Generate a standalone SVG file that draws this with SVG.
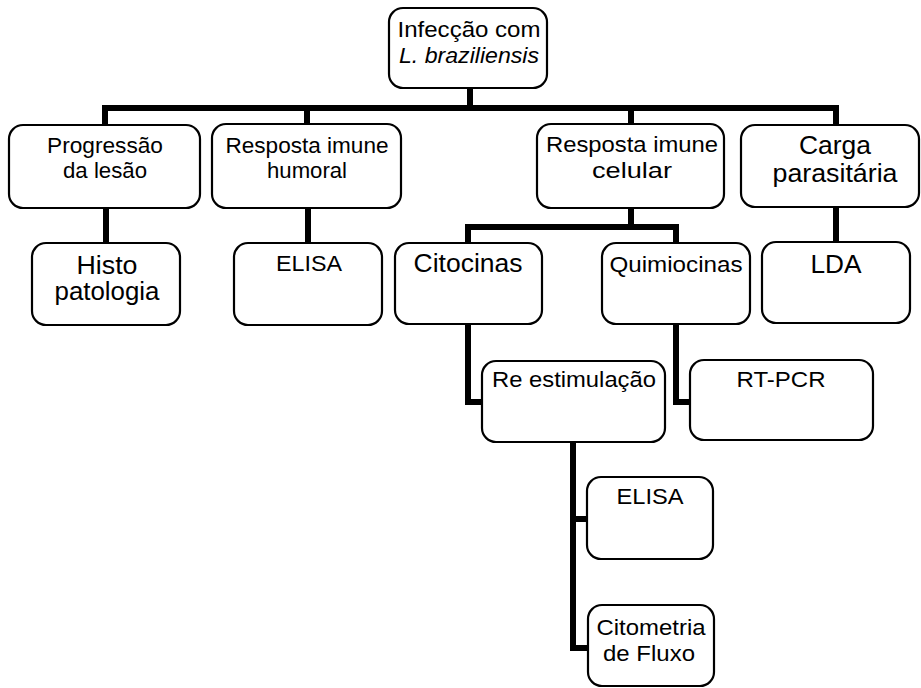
<svg xmlns="http://www.w3.org/2000/svg" width="921" height="688" viewBox="0 0 921 688">
<style>
.box{fill:#fff;stroke:#000;stroke-width:2.2}
.conn{fill:none;stroke:#000;stroke-width:6;stroke-linejoin:miter;stroke-linecap:butt}
text{font-family:"Liberation Sans",Arial,Helvetica,sans-serif;fill:#000;text-anchor:middle}
.m{font-size:22px}
.l{font-size:25px}
.it{font-style:italic}
</style>
<rect width="921" height="688" fill="#fff"/>
<g id="connectors">
<path class="conn" d="M105,125 V108 H836 V125"/>
<path class="conn" d="M470,88 V108"/>
<path class="conn" d="M307,108 V125"/>
<path class="conn" d="M631,108 V125"/>
<path class="conn" d="M106,208 V243"/>
<path class="conn" d="M308,208 V243"/>
<path class="conn" d="M836,207 V243"/>
<path class="conn" d="M631,208 V227"/>
<path class="conn" d="M468,243 V227 H676 V243"/>
<path class="conn" d="M468,324 V402 H483"/>
<path class="conn" d="M676,324 V402 H691"/>
<path class="conn" d="M573,442 V648 H589"/>
<path class="conn" d="M573,519 H588"/>
</g>
<g id="n-infeccao">
<rect class="box" x="389" y="8" width="158" height="80" rx="14"/>
<text class="m" x="469" y="37" textLength="143" lengthAdjust="spacingAndGlyphs">Infecção com</text>
<text class="m it" x="469" y="63" textLength="140" lengthAdjust="spacingAndGlyphs">L. braziliensis</text>
</g>
<g id="n-progressao">
<rect class="box" x="9" y="125" width="191" height="83" rx="14"/>
<text class="m" x="105" y="153" textLength="116" lengthAdjust="spacingAndGlyphs">Progressão</text>
<text class="m" x="105" y="178" textLength="84" lengthAdjust="spacingAndGlyphs">da lesão</text>
</g>
<g id="n-humoral">
<rect class="box" x="212" y="124" width="189" height="84" rx="14"/>
<text class="m" x="307" y="153" textLength="163" lengthAdjust="spacingAndGlyphs">Resposta imune</text>
<text class="m" x="307" y="178" textLength="80" lengthAdjust="spacingAndGlyphs">humoral</text>
</g>
<g id="n-celular">
<rect class="box" x="537" y="124" width="187" height="84" rx="14"/>
<text class="m" x="632" y="152" textLength="172" lengthAdjust="spacingAndGlyphs">Resposta imune</text>
<text class="m" x="632" y="178" textLength="80" lengthAdjust="spacingAndGlyphs">celular</text>
</g>
<g id="n-carga">
<rect class="box" x="741" y="125" width="178" height="82" rx="14"/>
<text class="l" x="835" y="154" textLength="72" lengthAdjust="spacingAndGlyphs">Carga</text>
<text class="l" x="835" y="182" textLength="125" lengthAdjust="spacingAndGlyphs">parasitária</text>
</g>
<g id="n-histo">
<rect class="box" x="32" y="243" width="148" height="82" rx="14"/>
<text class="l" x="107" y="274" textLength="61" lengthAdjust="spacingAndGlyphs">Histo</text>
<text class="l" x="107" y="300" textLength="105" lengthAdjust="spacingAndGlyphs">patologia</text>
</g>
<g id="n-elisa1">
<rect class="box" x="234" y="243" width="148" height="82" rx="14"/>
<text class="m" x="309" y="271" textLength="66" lengthAdjust="spacingAndGlyphs">ELISA</text>
</g>
<g id="n-citocinas">
<rect class="box" x="395" y="243" width="147" height="81" rx="14"/>
<text class="l" x="468" y="272" textLength="109" lengthAdjust="spacingAndGlyphs">Citocinas</text>
</g>
<g id="n-quimiocinas">
<rect class="box" x="602" y="243" width="148" height="81" rx="14"/>
<text class="m" x="676" y="272" textLength="133" lengthAdjust="spacingAndGlyphs">Quimiocinas</text>
</g>
<g id="n-lda">
<rect class="box" x="762" y="242" width="148" height="81" rx="14"/>
<text class="l" x="836" y="273" textLength="51" lengthAdjust="spacingAndGlyphs">LDA</text>
</g>
<g id="n-reestimulacao">
<rect class="box" x="482" y="361" width="183" height="81" rx="14"/>
<text class="m" x="574" y="387" textLength="164" lengthAdjust="spacingAndGlyphs">Re estimulação</text>
</g>
<g id="n-rtpcr">
<rect class="box" x="690" y="360" width="183" height="80" rx="14"/>
<text class="m" x="781" y="387" textLength="89" lengthAdjust="spacingAndGlyphs">RT-PCR</text>
</g>
<g id="n-elisa2">
<rect class="box" x="587" y="477" width="126" height="82" rx="14"/>
<text class="m" x="650" y="504" textLength="67" lengthAdjust="spacingAndGlyphs">ELISA</text>
</g>
<g id="n-citometria">
<rect class="box" x="588" y="605" width="126" height="81" rx="14"/>
<text class="m" x="651" y="635" textLength="109" lengthAdjust="spacingAndGlyphs">Citometria</text>
<text class="m" x="649" y="661" textLength="92" lengthAdjust="spacingAndGlyphs">de Fluxo</text>
</g>
</svg>
